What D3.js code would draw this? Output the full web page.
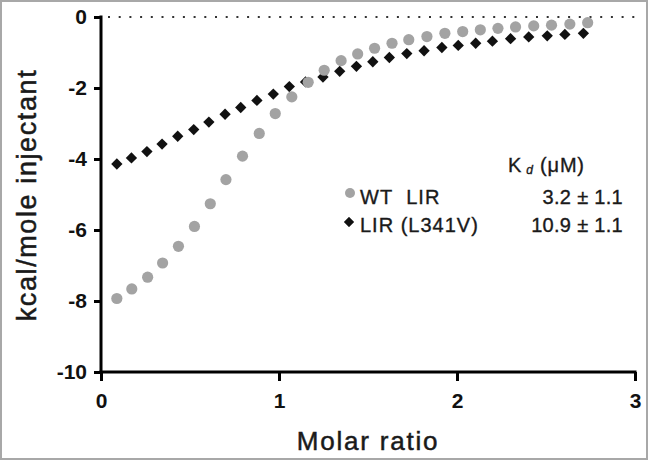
<!DOCTYPE html>
<html><head><meta charset="utf-8">
<script src="https://cdn.jsdelivr.net/npm/d3@7"></script>
<style>body{margin:0;background:#fff} svg{display:block}</style>
</head><body><svg id="c" width="648" height="460"></svg>
<script>
// Molar ratio (x) and kcal/mole injectant (y)
const wtX = [0.089,0.173,0.262,0.346,0.435,0.525,0.614,0.702,0.795,0.889,0.979,1.072,1.164,1.254,1.349,1.442,1.537,1.635,1.729,1.831,1.932,2.032,2.131,2.230,2.329,2.431,2.531,2.634,2.734];
const wtY = [-7.93,-7.66,-7.33,-6.93,-6.46,-5.90,-5.26,-4.58,-3.92,-3.28,-2.72,-2.25,-1.84,-1.50,-1.23,-1.04,-0.88,-0.74,-0.64,-0.55,-0.46,-0.41,-0.36,-0.32,-0.28,-0.25,-0.23,-0.20,-0.16];
const mutX = [0.089,0.171,0.258,0.343,0.431,0.521,0.606,0.697,0.785,0.876,0.968,1.058,1.149,1.247,1.341,1.435,1.527,1.620,1.718,1.815,1.915,2.007,2.105,2.199,2.301,2.403,2.507,2.606,2.710];
const mutY = [-4.14,-3.97,-3.79,-3.58,-3.36,-3.17,-2.96,-2.74,-2.55,-2.35,-2.17,-1.96,-1.83,-1.69,-1.53,-1.39,-1.26,-1.14,-1.03,-0.95,-0.86,-0.80,-0.74,-0.68,-0.61,-0.56,-0.53,-0.49,-0.46];
const xTicks = [0,1,2,3];
const yTicks = [0,-2,-4,-6,-8,-10];
const seriesNames = ["WT\u00A0\u00A0LIR","LIR (L341V)"];
const kdValues = ["3.2 ± 1.1","10.9 ± 1.1"];
const xTitle = "Molar ratio";
const yTitle = "kcal/mole injectant";

const svg = d3.select("#c");
const FONT = "'Liberation Sans', Arial, sans-serif";
const GRAY = "#a3a3a3";

svg.append("rect").attr("x",1).attr("y",1).attr("width",646).attr("height",458)
  .attr("fill","#fff").attr("stroke","#a8a8a8").attr("stroke-width",2);

const x = d3.scaleLinear().domain([0,3]).range([101,635]);
const y = d3.scaleLinear().domain([-10,0]).range([372,17]);

// zero dotted line
svg.append("line").attr("x1",x(0)+7).attr("x2",x(3)).attr("y1",y(0)).attr("y2",y(0))
  .attr("stroke","#333").attr("stroke-width",2).attr("stroke-dasharray","2,8.7");

const fmt = d => String(d);
const xAxis = svg.append("g").attr("transform",`translate(0,${y(-10)})`)
  .call(d3.axisBottom(x).tickValues(xTicks).tickFormat(fmt).tickSizeInner(9).tickSizeOuter(0).tickPadding(12));
const yAxis = svg.append("g").attr("transform",`translate(${x(0)},0)`)
  .call(d3.axisLeft(y).tickValues(yTicks).tickFormat(fmt).tickSizeInner(7).tickSizeOuter(0).tickPadding(7));
[xAxis,yAxis].forEach(g=>{
  g.selectAll("path,line").attr("stroke","#000").attr("stroke-width",3);
  g.selectAll("text").attr("font-family",FONT).attr("font-size",21).attr("font-weight","bold").attr("fill","#111");
});
yAxis.select(".domain").attr("d",`M0,${y(0)-1.5}V${y(-10)+1.5}`);
xAxis.select(".domain").attr("d",`M${-1.5+x(0)},0H${x(3)+1.5}`);

// titles
svg.append("text").attr("x",368).attr("y",450).attr("text-anchor","middle")
  .attr("font-family",FONT).attr("font-size",26).attr("letter-spacing",1.8).attr("fill","#1a1a1a")
  .attr("stroke","#1a1a1a").attr("stroke-width",0.5).text(xTitle);
svg.append("text").attr("transform","translate(36,195) rotate(-90)").attr("text-anchor","middle")
  .attr("font-family",FONT).attr("font-size",27).attr("letter-spacing",1.6).attr("fill","#1a1a1a")
  .attr("stroke","#1a1a1a").attr("stroke-width",0.5).text(yTitle);

const diamond = {draw(ctx,size){const r=Math.sqrt(size/2);ctx.moveTo(0,-r);ctx.lineTo(r,0);ctx.lineTo(0,r);ctx.lineTo(-r,0);ctx.closePath();}};
const dSym = d3.symbol().type(diamond).size(64);

svg.append("g").selectAll("path").data(d3.range(mutX.length)).join("path")
  .attr("transform",i=>`translate(${x(mutX[i])},${y(mutY[i])})`).attr("d",dSym).attr("fill","#111");
svg.append("g").selectAll("circle").data(d3.range(wtX.length)).join("circle")
  .attr("cx",i=>x(wtX[i])).attr("cy",i=>y(wtY[i])).attr("r",5.6).attr("fill",GRAY);

// legend
const lg = svg.append("g").attr("font-family",FONT).attr("font-size",20).attr("fill","#1a1a1a")
  .attr("stroke","#1a1a1a").attr("stroke-width",0.35);
const kd = lg.append("text").attr("x",508).attr("y",172).attr("letter-spacing",0.8);
kd.append("tspan").text("K");
kd.append("tspan").attr("font-size",12).attr("font-style","italic").attr("dy",2).text(" d");
kd.append("tspan").attr("dy",-2).text(" (μM)");
const rows = [204, 232];
lg.append("circle").attr("cx",350).attr("cy",193).attr("r",5).attr("fill",GRAY).attr("stroke","none");
lg.append("path").attr("transform","translate(349,222)").attr("d",d3.symbol().type(diamond).size(50)).attr("fill","#111");
seriesNames.forEach((s,i)=>{
  lg.append("text").attr("x",360).attr("y",rows[i]).attr("letter-spacing",1.0).text(s);
  lg.append("text").attr("x",623).attr("y",rows[i]).attr("text-anchor","end").attr("letter-spacing",0.3).text(kdValues[i]);
});
</script></body></html>
